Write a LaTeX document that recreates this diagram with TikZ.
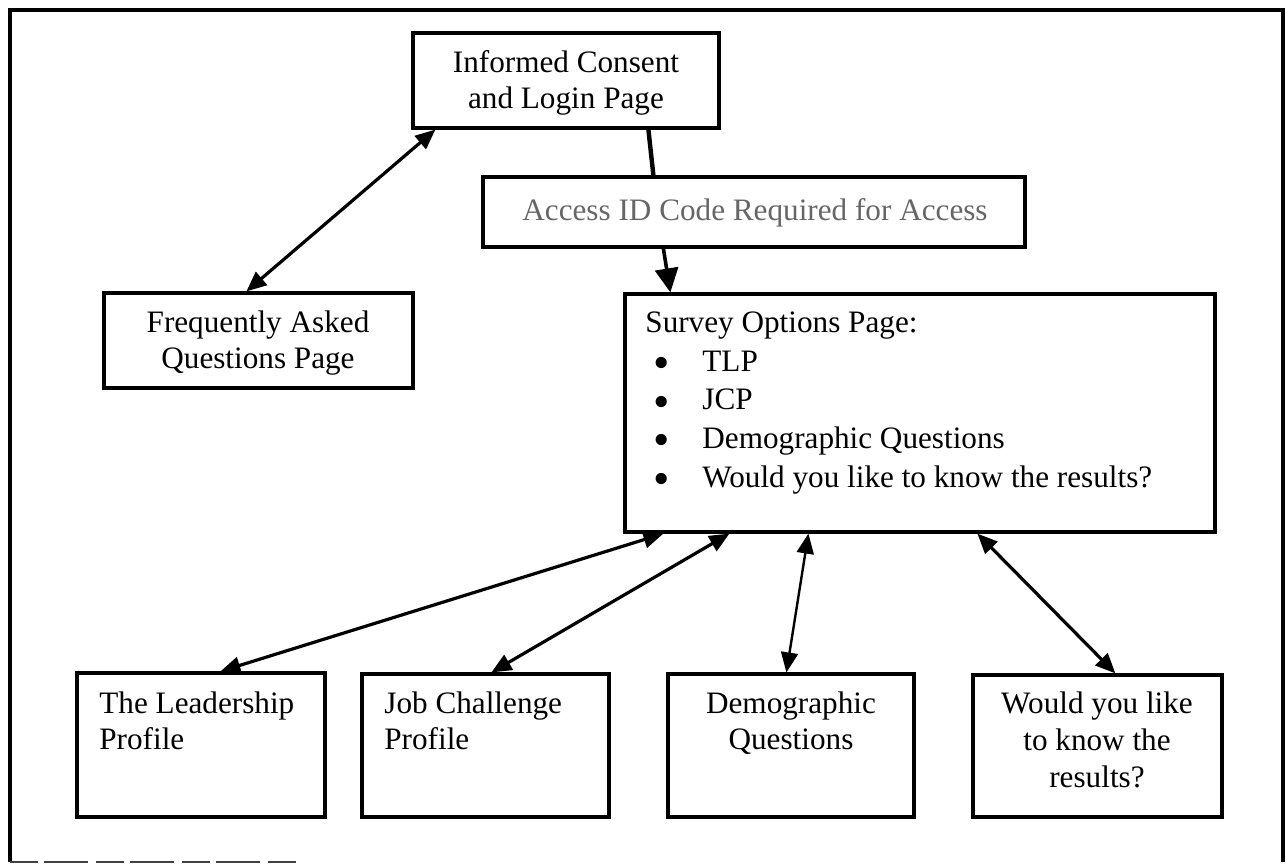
\documentclass[tikz,border=0pt]{standalone}
\usepackage{fontspec}
\setmainfont{Liberation Serif}
\usetikzlibrary{arrows.meta,fit}

\tikzset{
  box/.style={draw, line width=1.6pt, inner sep=0pt, rectangle},
  txt/.style={font=\fontsize{15.6pt}{18pt}\selectfont, inner sep=0pt},
  biarrow/.style={line width=1.6pt, {Triangle[length=10pt,width=8.5pt]}-{Triangle[length=10pt,width=8.5pt]}},
  bigarrow/.style={line width=1.8pt, -{Triangle[length=12pt,width=11.5pt]}},
}
% list marker used in the options box
\newcommand{\optitem}{\hspace*{4pt}\makebox[24.5pt][l]{\smash{\raisebox{-3.6pt}{\scalebox{1.5}{\textbullet}}}}}

\begin{document}
\begin{tikzpicture}[x=0.5pt,y=-0.5pt]
  \useasboundingbox (0,0) rectangle (1286,863);

  % outer frame (bottom edge only partly printed)
  \draw[line width=1.6pt] (10,862) -- (10,10) -- (1283,10) -- (1283,862);
  \draw[line width=1.2pt, black!75, dash pattern=on 14pt off 3pt on 22pt off 4pt] (10,862) -- (300,862);

  % boxes
  \node[box, fit={(413,33) (719,128)}]   (consent) {};
  \node[box, fit={(483,177) (1025,247)}] (access)  {};
  \node[box, fit={(104,293) (413,388)}]  (faq)     {};
  \node[box, fit={(625,294) (1215,532)}] (survey)  {};
  \node[box, fit={(77,673) (325,817)}]   (tlp)     {};
  \node[box, fit={(362,674) (609,817)}]  (jcp)     {};
  \node[box, fit={(668,674) (914,817)}]  (demo)    {};
  \node[box, fit={(973,675) (1222,817)}] (results) {};

  % texts (anchored at the baseline of their last line)
  \node[txt, anchor=base, align=center] (consentT) at (566,108) {Informed Consent\\and Login Page};
  \node[txt, anchor=base, text=black!60] (accessT) at (755,220) {Access ID Code Required for Access};
  \node[txt, anchor=base, align=center] (faqT) at (258,368) {Frequently Asked\\Questions Page};
  \node[txt, anchor=base west, align=left, font=\fontsize{15.6pt}{19.3pt}\selectfont] (surveyT) at (645,487)
    {Survey Options Page:\\
     \optitem TLP\\
     \optitem JCP\\
     \optitem Demographic Questions\\
     \optitem Would you like to know the results?};
  \node[txt, anchor=base west, align=left] (tlpT) at (99,749) {The Leadership\\Profile};
  \node[txt, anchor=base west, align=left] (jcpT) at (384,749) {Job Challenge\\Profile};
  \node[txt, anchor=base, align=center] (demoT) at (791,749) {Demographic\\Questions};
  \node[txt, anchor=base, align=center, font=\fontsize{15.6pt}{18.5pt}\selectfont] (resultsT) at (1097,787) {Would you like\\to know the\\results?};

  % connectors
  \draw[biarrow] ([xshift=12pt]consent.south west) -- ([xshift=72pt]faq.north west);
  \draw[line width=2.2pt] ([xshift=118.5pt]consent.south west) -- ([xshift=86pt]access.north west);
  \draw[bigarrow] ([xshift=91pt]access.south west) -- ([xshift=23.5pt]survey.north west);
  \draw[biarrow] ([xshift=20pt]survey.south west) -- ([xshift=72.5pt]tlp.north west);
  \draw[biarrow] ([xshift=53pt]survey.south west) -- ([xshift=65.5pt]jcp.north west);
  \draw[biarrow, line width=1.2pt] ([xshift=92.5pt]survey.south west) -- ([xshift=60pt]demo.north west);
  \draw[biarrow] ([xshift=177pt]survey.south west) -- ([xshift=72pt]results.north west);
\end{tikzpicture}
\end{document}
